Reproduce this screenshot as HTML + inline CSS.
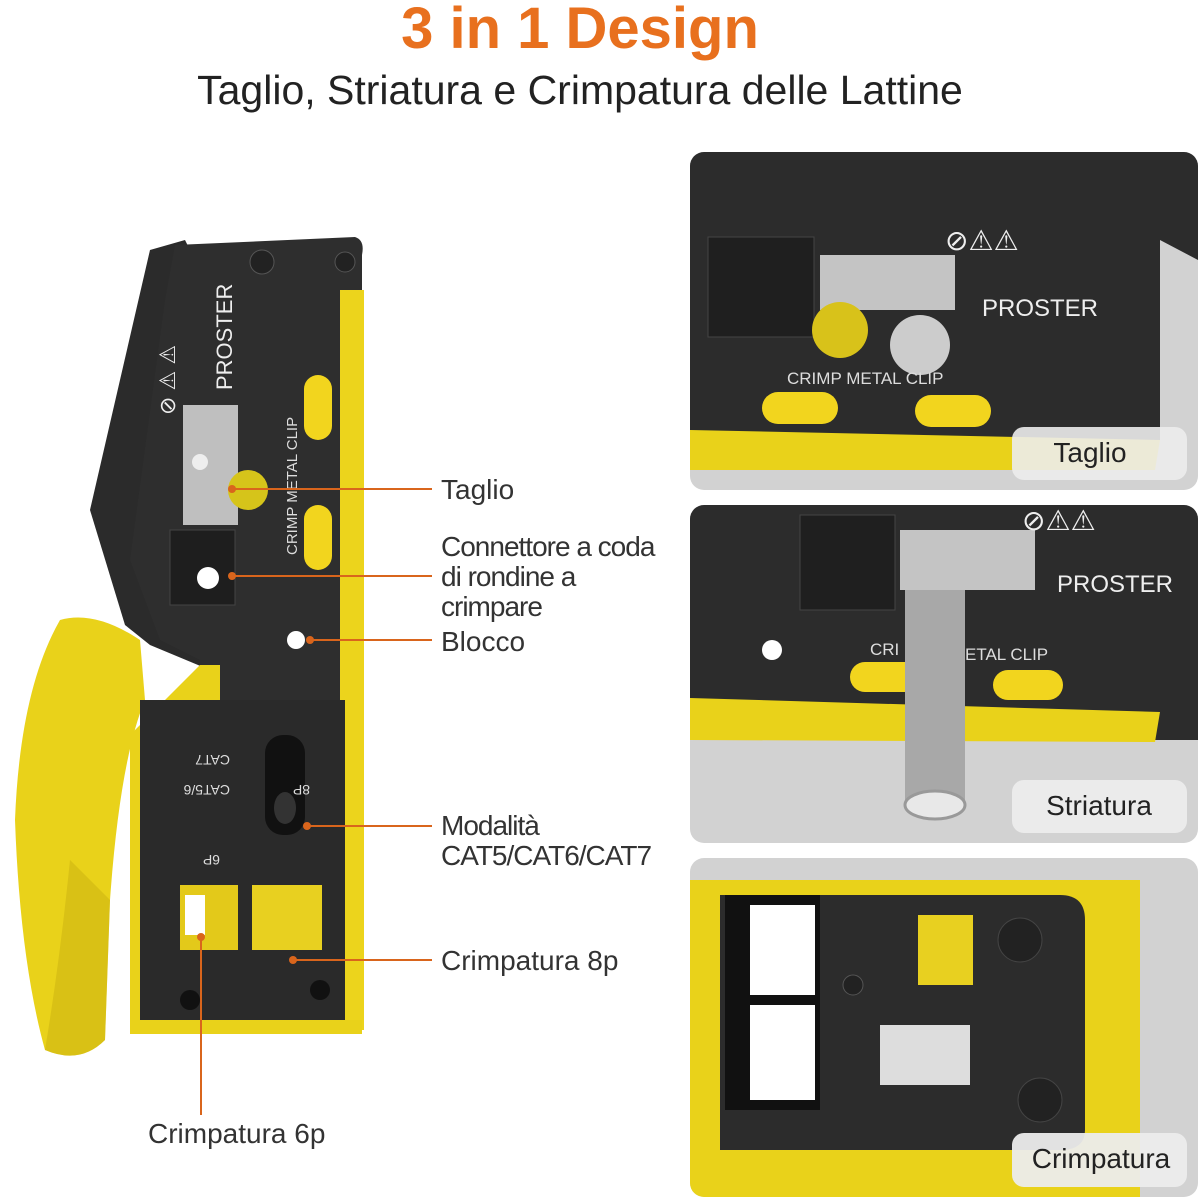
<!DOCTYPE html>
<html><head><meta charset="utf-8"><style>
html,body{margin:0;padding:0;background:#fff;width:1200px;height:1200px;overflow:hidden}
svg{display:block}
text{font-family:"Liberation Sans",sans-serif}
</style></head><body>
<svg width="1200" height="1200" viewBox="0 0 1200 1200">
<rect width="1200" height="1200" fill="#fff"/>
<text x="580" y="48" text-anchor="middle" font-size="58" font-weight="bold" fill="#e8701e">3 in 1 Design</text>
<text x="580" y="104" text-anchor="middle" font-size="41" fill="#222">Taglio, Striatura e Crimpatura delle Lattine</text>

<!-- LEFT TOOL -->
<polygon points="150,250 185,240 215,300 210,670 150,645 125,625 90,510" fill="#2b2b2b"/>
<!-- main body -->
<path d="M175,245 L355,237 Q365,240 362,255 L362,1030 L200,1030 L200,660 L160,640 L130,560 L165,300 Z" fill="#2e2e2e"/>
<!-- yellow handle -->
<path d="M60,620 Q95,610 140,640 L145,700 Q120,760 110,900 L105,1040 Q80,1065 45,1050 Q20,960 15,820 Q20,690 60,620 Z" fill="#e9d21a"/>
<path d="M110,900 L105,1040 Q80,1065 45,1050 Q60,960 70,860 Z" fill="#c9b010" opacity="0.5"/>
<rect x="340" y="290" width="24" height="740" fill="#ecd41c"/>
<!-- lower yellow frame -->
<path d="M130,735 L200,665 L220,665 L220,1032 L130,1032 Z" fill="#e9d21a"/>
<rect x="140" y="700" width="205" height="330" fill="#2a2a2a"/>
<rect x="130" y="1020" width="232" height="14" fill="#e9d21a"/>
<rect x="304" y="375" width="28" height="65" rx="14" fill="#f2d51e"/>
<rect x="304" y="505" width="28" height="65" rx="14" fill="#f2d51e"/>
<rect x="183" y="405" width="55" height="120" fill="#bfbfbf"/>
<circle cx="248" cy="490" r="20" fill="#d6c41a"/>
<circle cx="200" cy="462" r="8" fill="#eee"/>
<rect x="170" y="530" width="65" height="75" fill="#1e1e1e" stroke="#444"/>
<circle cx="208" cy="578" r="11" fill="#fff"/>
<circle cx="296" cy="640" r="9" fill="#fff"/>
<rect x="265" y="735" width="40" height="100" rx="18" fill="#111"/>
<ellipse cx="285" cy="808" rx="11" ry="16" fill="#333"/>
<rect x="180" y="885" width="58" height="65" fill="#e3c91a"/>
<rect x="185" y="895" width="20" height="40" fill="#fff"/>
<rect x="252" y="885" width="70" height="65" fill="#e8d020"/>
<circle cx="190" cy="1000" r="10" fill="#111"/>
<circle cx="320" cy="990" r="10" fill="#111"/>
<circle cx="262" cy="262" r="12" fill="#222" stroke="#555"/>
<circle cx="345" cy="262" r="10" fill="#222" stroke="#555"/>
<text transform="translate(232,390) rotate(-90)" font-size="22" fill="#eee">PROSTER</text>
<text transform="translate(297,555) rotate(-90)" font-size="15" fill="#ddd">CRIMP METAL CLIP</text>
<text transform="translate(175,415) rotate(-90)" font-size="22" fill="#eee">⊘ ⚠ ⚠</text>
<text transform="translate(230,755) rotate(180)" font-size="14" fill="#ddd">CAT7</text>
<text transform="translate(230,785) rotate(180)" font-size="14" fill="#ddd">CAT5/6</text>
<text transform="translate(310,785) rotate(180)" font-size="14" fill="#ddd">8P</text>
<text transform="translate(220,855) rotate(180)" font-size="14" fill="#ddd">6P</text>

<g stroke="#d9651c" stroke-width="2" fill="none">
<line x1="232" y1="489" x2="432" y2="489"/>
<line x1="232" y1="576" x2="432" y2="576"/>
<line x1="310" y1="640" x2="432" y2="640"/>
<line x1="307" y1="826" x2="432" y2="826"/>
<line x1="293" y1="960" x2="432" y2="960"/>
<line x1="201" y1="937" x2="201" y2="1115"/>
</g>
<g fill="#d9651c"><circle cx="232" cy="489" r="4"/><circle cx="232" cy="576" r="4"/><circle cx="310" cy="640" r="4"/><circle cx="307" cy="826" r="4"/><circle cx="293" cy="960" r="4"/><circle cx="201" cy="937" r="4"/></g>
<g font-size="28" fill="#333">
<text x="441" y="499">Taglio</text>
<text x="441" y="556" letter-spacing="-1">Connettore a coda</text>
<text x="441" y="586" letter-spacing="-1">di rondine a</text>
<text x="441" y="616" letter-spacing="-1">crimpare</text>
<text x="441" y="651">Blocco</text>
<text x="441" y="835" letter-spacing="-1">Modalità</text>
<text x="441" y="865" letter-spacing="-1">CAT5/CAT6/CAT7</text>
<text x="441" y="970">Crimpatura 8p</text>
<text x="148" y="1143">Crimpatura 6p</text>
</g>

<defs>
<clipPath id="c1"><rect x="690" y="152" width="508" height="338" rx="14"/></clipPath>
<clipPath id="c2"><rect x="690" y="505" width="508" height="338" rx="14"/></clipPath>
<clipPath id="c3"><rect x="690" y="858" width="508" height="339" rx="14"/></clipPath>
</defs>
<g clip-path="url(#c1)">
<rect x="690" y="152" width="508" height="338" fill="#d2d2d2"/>
<polygon points="690,152 1198,152 1198,260 1160,240 1160,440 690,440" fill="#2c2c2c"/>
<polygon points="690,430 1160,440 1155,470 690,470" fill="#e9d21a"/>
<rect x="708" y="237" width="106" height="100" fill="#1f1f1f" stroke="#444"/>
<rect x="820" y="255" width="135" height="55" fill="#c4c4c4"/>
<circle cx="840" cy="330" r="28" fill="#d8c21a"/>
<circle cx="920" cy="345" r="30" fill="#ccc"/>
<rect x="762" y="392" width="76" height="32" rx="16" fill="#f2d51e"/>
<rect x="915" y="395" width="76" height="32" rx="16" fill="#f2d51e"/>
<text x="982" y="316" font-size="24" fill="#eee">PROSTER</text>
<text x="945" y="250" font-size="28" fill="#eee">⊘⚠⚠</text>
<text x="787" y="384" font-size="17" fill="#ddd">CRIMP METAL CLIP</text>
<rect x="1012" y="427" width="175" height="53" rx="12" fill="#ececec" opacity="0.9"/>
<text x="1090" y="462" text-anchor="middle" font-size="28" fill="#222">Taglio</text>
</g>

<g clip-path="url(#c2)">
<rect x="690" y="505" width="508" height="338" fill="#d2d2d2"/>
<polygon points="690,505 1198,505 1198,740 690,740" fill="#2c2c2c"/>
<polygon points="690,698 1160,712 1155,742 690,740" fill="#e9d21a"/>
<rect x="800" y="515" width="95" height="95" fill="#1f1f1f" stroke="#444"/>
<rect x="900" y="530" width="135" height="60" fill="#c4c4c4"/>
<rect x="850" y="662" width="70" height="30" rx="15" fill="#f2d51e"/>
<rect x="993" y="670" width="70" height="30" rx="15" fill="#f2d51e"/>
<rect x="905" y="590" width="60" height="215" fill="#a8a8a8"/>
<ellipse cx="935" cy="805" rx="30" ry="14" fill="#e8e8e8" stroke="#999" stroke-width="3"/>
<circle cx="772" cy="650" r="10" fill="#fff"/>
<text x="1057" y="592" font-size="24" fill="#eee">PROSTER</text>
<text x="1022" y="530" font-size="28" fill="#eee">⊘⚠⚠</text>
<text x="870" y="655" font-size="17" fill="#ddd">CRI</text>
<text x="965" y="660" font-size="17" fill="#ddd">ETAL CLIP</text>
<rect x="1012" y="780" width="175" height="53" rx="12" fill="#ececec" opacity="0.95"/>
<text x="1099" y="815" text-anchor="middle" font-size="28" fill="#222">Striatura</text>
</g>

<g clip-path="url(#c3)">
<rect x="690" y="858" width="508" height="339" fill="#d2d2d2"/>
<rect x="690" y="880" width="450" height="290" fill="#e9d21a"/>
<path d="M720,895 L1060,895 Q1085,895 1085,920 L1085,1130 Q1085,1150 1060,1150 L720,1150 Z" fill="#2c2c2c"/>
<rect x="725" y="895" width="95" height="215" fill="#111"/>
<rect x="750" y="905" width="65" height="90" fill="#fff"/>
<rect x="750" y="1005" width="65" height="95" fill="#fff"/>
<rect x="918" y="915" width="55" height="70" fill="#e8d020"/>
<rect x="880" y="1025" width="90" height="60" fill="#ddd"/>
<circle cx="1020" cy="940" r="22" fill="#222" stroke="#444"/>
<circle cx="1040" cy="1100" r="22" fill="#222" stroke="#444"/>
<circle cx="853" cy="985" r="10" fill="#222" stroke="#555"/>
<rect x="690" y="1150" width="450" height="47" fill="#e9d21a"/>
<rect x="1012" y="1133" width="175" height="54" rx="12" fill="#ececec" opacity="0.95"/>
<text x="1101" y="1168" text-anchor="middle" font-size="28" fill="#222">Crimpatura</text>
</g>
</svg>
</body></html>
